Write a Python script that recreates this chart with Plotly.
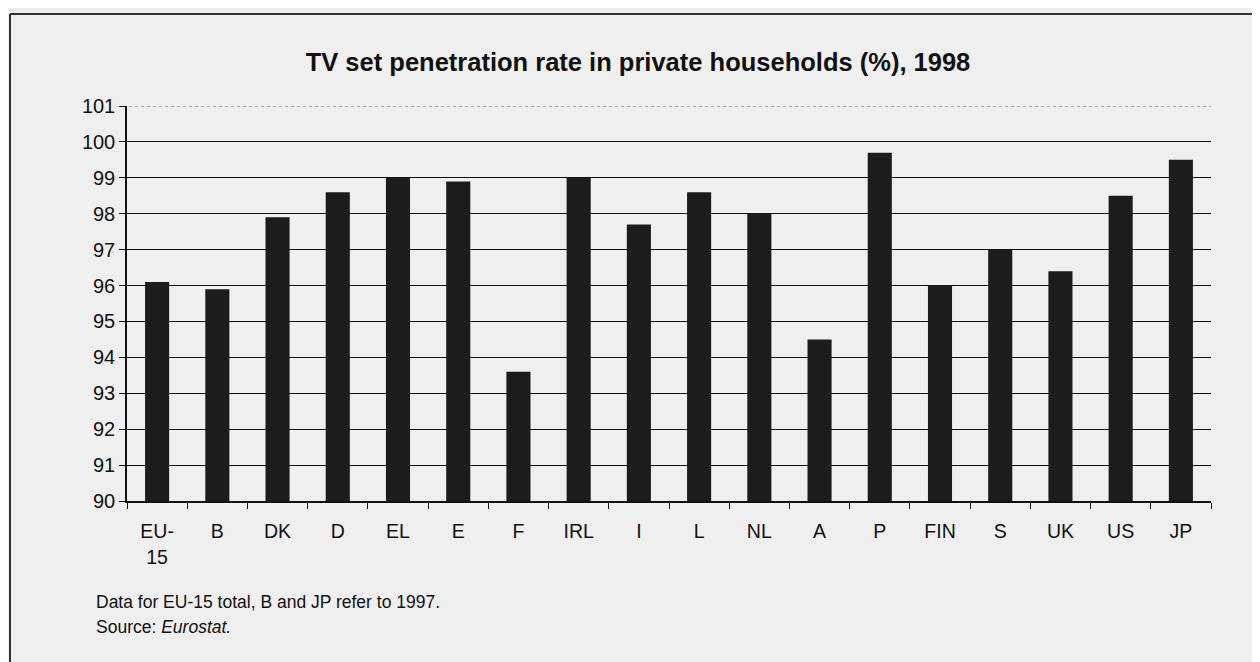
import plotly.graph_objects as go

categories = ["EU-<br>15", "B", "DK", "D", "EL", "E", "F", "IRL", "I", "L", "NL", "A", "P", "FIN", "S", "UK", "US", "JP"]
values = [96.1, 95.9, 97.9, 98.6, 99.0, 98.9, 93.6, 99.0, 97.7, 98.6, 98.0, 94.5, 99.7, 96.0, 97.0, 96.4, 98.5, 99.5]
y_ticks = list(range(90, 102))

W, H = 1260, 662
OFF = 8  # page body margin
L, R, T, B = 127 - OFF, 1260 - (1211 - OFF), 106 - OFF, 662 - (501 - OFF)

fig = go.Figure(go.Bar(x=categories, y=values, marker=dict(color="#1c1c1c", line=dict(width=0)),
                       width=0.40))

fig.update_layout(
    width=W, height=H,
    margin=dict(l=L, r=R, t=T, b=B),
    paper_bgcolor="#efefef", plot_bgcolor="#efefef",
    font=dict(family="Liberation Sans, Arial, sans-serif", color="#111111"),
    showlegend=False,
    title=dict(text="<b>TV set penetration rate in private households (%), 1998</b>",
               x=0.5, xanchor="center", y=1 - (62 - OFF) / H, yanchor="middle",
               font=dict(size=25.5, color="#111111")),
    xaxis=dict(type="category", showgrid=False, showline=True, linecolor="#111111", linewidth=1.5,
               ticks="outside", tickson="boundaries", ticklen=6, tickcolor="#111111",
               tickfont=dict(size=19.5), ticklabelstandoff=12, range=[-0.5, len(categories) - 0.5]),
    yaxis=dict(range=[90, 101], tickvals=y_ticks, showgrid=True, gridcolor="#111111", gridwidth=1.3,
               showline=True, linecolor="#111111", linewidth=1.5, ticks="outside", ticklen=6,
               tickcolor="#111111", tickfont=dict(size=20), zeroline=False),
)

def px_x(px):
    return (px - OFF - L) / (W - L - R)

def px_y(py):
    return (H - B - (py - OFF)) / (H - T - B)

fig.add_annotation(text="Data for EU-15 total, B and JP refer to 1997.", xref="paper", yref="paper",
                   x=px_x(94), y=px_y(602), xanchor="left", yanchor="middle",
                   showarrow=False, font=dict(size=17.5, color="#111111"))
fig.add_annotation(text="Source: <i>Eurostat.</i>", xref="paper", yref="paper",
                   x=px_x(94), y=px_y(627), xanchor="left", yanchor="middle",
                   showarrow=False, font=dict(size=17.5, color="#111111"))

# faint dotted top gridline (101)
fig.add_shape(type="line", xref="paper", yref="y", x0=px_x(129), x1=1, y0=y_ticks[-1], y1=y_ticks[-1],
              line=dict(color="#efefef", width=3), layer="above")
fig.add_shape(type="line", xref="paper", yref="y", x0=px_x(129), x1=1, y0=y_ticks[-1], y1=y_ticks[-1],
              line=dict(color="#777777", width=1.2, dash="dot"), layer="above")

# chart frame
fig.add_shape(type="line", xref="paper", yref="paper", x0=px_x(10), x1=px_x(1270), y0=px_y(14), y1=px_y(14),
              line=dict(color="#333333", width=2))
fig.add_shape(type="line", xref="paper", yref="paper", x0=px_x(10), x1=px_x(10), y0=px_y(14), y1=px_y(680),
              line=dict(color="#333333", width=2))

fig.write_html("out.html")
